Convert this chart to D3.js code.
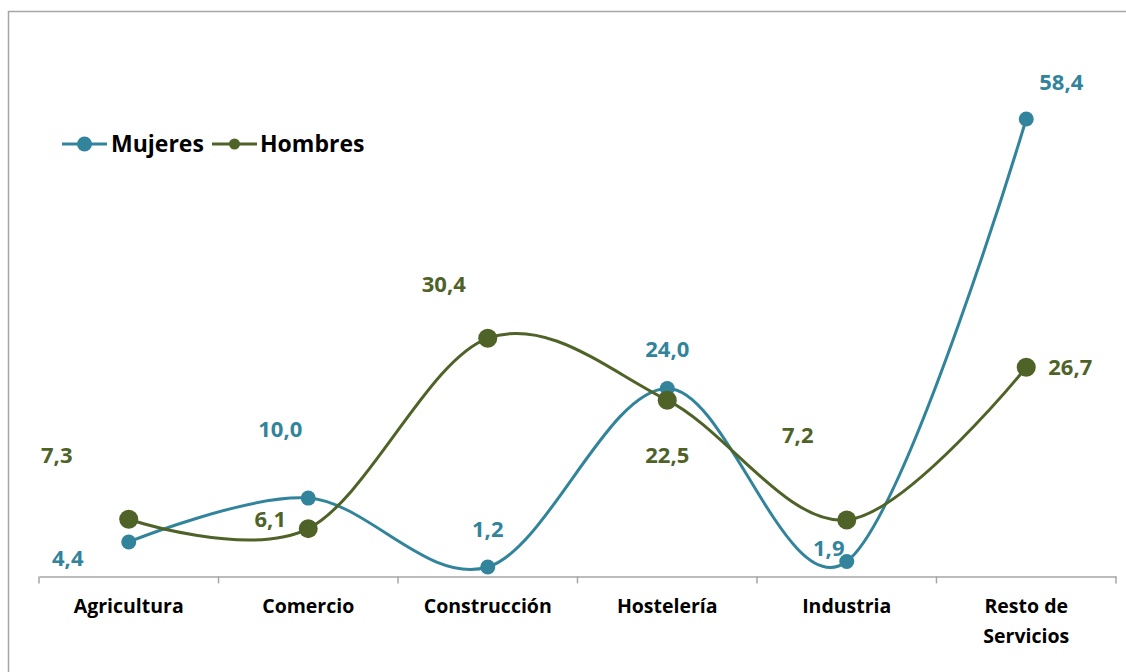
<!DOCTYPE html>
<html><head><meta charset="utf-8">
<script src="https://cdn.jsdelivr.net/npm/d3@7"></script>
<style>
html,body{margin:0;padding:0;background:#fff;}
svg{display:block;}
text{font-family:"Open Sans","Noto Sans",sans-serif;font-weight:700;}
</style></head>
<body>
<script>
const categories = ["Agricultura", "Comercio", "Construcción", "Hostelería", "Industria", "Resto de Servicios"];
const seriesNames = ["Mujeres", "Hombres"];
const mujeres = [4.4, 10.0, 1.2, 24.0, 1.9, 58.4];
const hombres = [7.3, 6.1, 30.4, 22.5, 7.2, 26.7];
const colors = ["#31849B", "#4F6228"];

// label offsets (layout only)
const mujLabelOff = [[-61, 24], [-28, -61], [0, -30], [0, -31], [-18, -6], [35, -29]];
const homLabelOff = [[-72, -56], [-38, -2], [-44, -46], [0, 63], [-49, -77], [44, 8]];

const W = 1126, H = 672;
const svg = d3.select("body").append("svg").attr("width", W).attr("height", H);

svg.append("rect").attr("x", 8.5).attr("y", 11.5).attr("width", W + 10).attr("height", H + 10)
  .attr("fill", "#fff").attr("stroke", "#A6A6A6").attr("stroke-width", 1.5);

const x = d3.scaleBand().domain(categories).range([39, 1116]).paddingInner(0).paddingOuter(0);
const y = d3.scaleLinear().domain([0, 70]).range([576.4, 28.2]);
const cx = d => x(d) + x.bandwidth() / 2;

// axis
const axis = d3.axisBottom(x).tickSize(0).tickFormat("");
const gAxis = svg.append("g").attr("transform", `translate(0,${y(0)})`).call(axis);
gAxis.select(".domain").attr("stroke", "#A6A6A6").attr("stroke-width", 1.5);
const bounds = categories.map(c => x(c)).concat([x(categories[categories.length - 1]) + x.bandwidth()]);
svg.append("g").selectAll("line").data(bounds).join("line")
  .attr("x1", d => d).attr("x2", d => d).attr("y1", y(0)).attr("y2", y(0) + 7)
  .attr("stroke", "#A6A6A6").attr("stroke-width", 1.5);

// category labels
const lab = svg.append("g").selectAll("text").data(categories).join("text")
  .attr("x", d => cx(d)).attr("y", 613).attr("text-anchor", "middle")
  .attr("font-size", 19.5).attr("fill", "#000");
lab.each(function(d) {
  const t = d3.select(this);
  if (d === "Resto de Servicios") {
    t.append("tspan").attr("x", cx(d)).attr("dy", 0).text("Resto de");
    t.append("tspan").attr("x", cx(d)).attr("dy", 30).text("Servicios");
  } else t.text(d);
});

const curve = d3.curveCardinal.tension(0);
const line = d3.line().x(d => cx(d.c)).y(d => y(d.v)).curve(curve);

const series = [
  { name: seriesNames[0], values: mujeres, color: colors[0], r: 7.5, off: mujLabelOff },
  { name: seriesNames[1], values: hombres, color: colors[1], r: 9.5, off: homLabelOff }
];

series.forEach(s => {
  const pts = categories.map((c, i) => ({ c, v: s.values[i] }));
  svg.append("path").datum(pts).attr("d", line).attr("fill", "none")
    .attr("stroke", s.color).attr("stroke-width", 3);
});
series.forEach(s => {
  const pts = categories.map((c, i) => ({ c, v: s.values[i] }));
  svg.append("g").selectAll("circle").data(pts).join("circle")
    .attr("cx", d => cx(d.c)).attr("cy", d => y(d.v)).attr("r", s.r).attr("fill", s.color);
});
series.forEach(s => {
  const pts = categories.map((c, i) => ({ c, v: s.values[i], o: s.off[i] }));
  svg.append("g").selectAll("text").data(pts).join("text")
    .attr("x", d => cx(d.c) + d.o[0]).attr("y", d => y(d.v) + d.o[1])
    .attr("text-anchor", "middle").attr("font-size", 22).attr("fill", s.color)
    .text(d => d3.format(".1f")(d.v).replace(".", ","));
});

// legend
const leg = [{ x0: 62, x1: 107, tx: 111, r: 7.5 }, { x0: 212, x1: 257, tx: 260, r: 5.5 }];
series.forEach((s, i) => {
  const g = svg.append("g");
  const L = leg[i];
  g.append("line").attr("x1", L.x0).attr("x2", L.x1).attr("y1", 144).attr("y2", 144)
    .attr("stroke", s.color).attr("stroke-width", 3);
  g.append("circle").attr("cx", (L.x0 + L.x1) / 2).attr("cy", 144).attr("r", L.r).attr("fill", s.color);
  g.append("text").attr("x", L.tx).attr("y", 152).attr("font-size", 23).attr("fill", "#000").text(s.name);
});
</script>
</body></html>
